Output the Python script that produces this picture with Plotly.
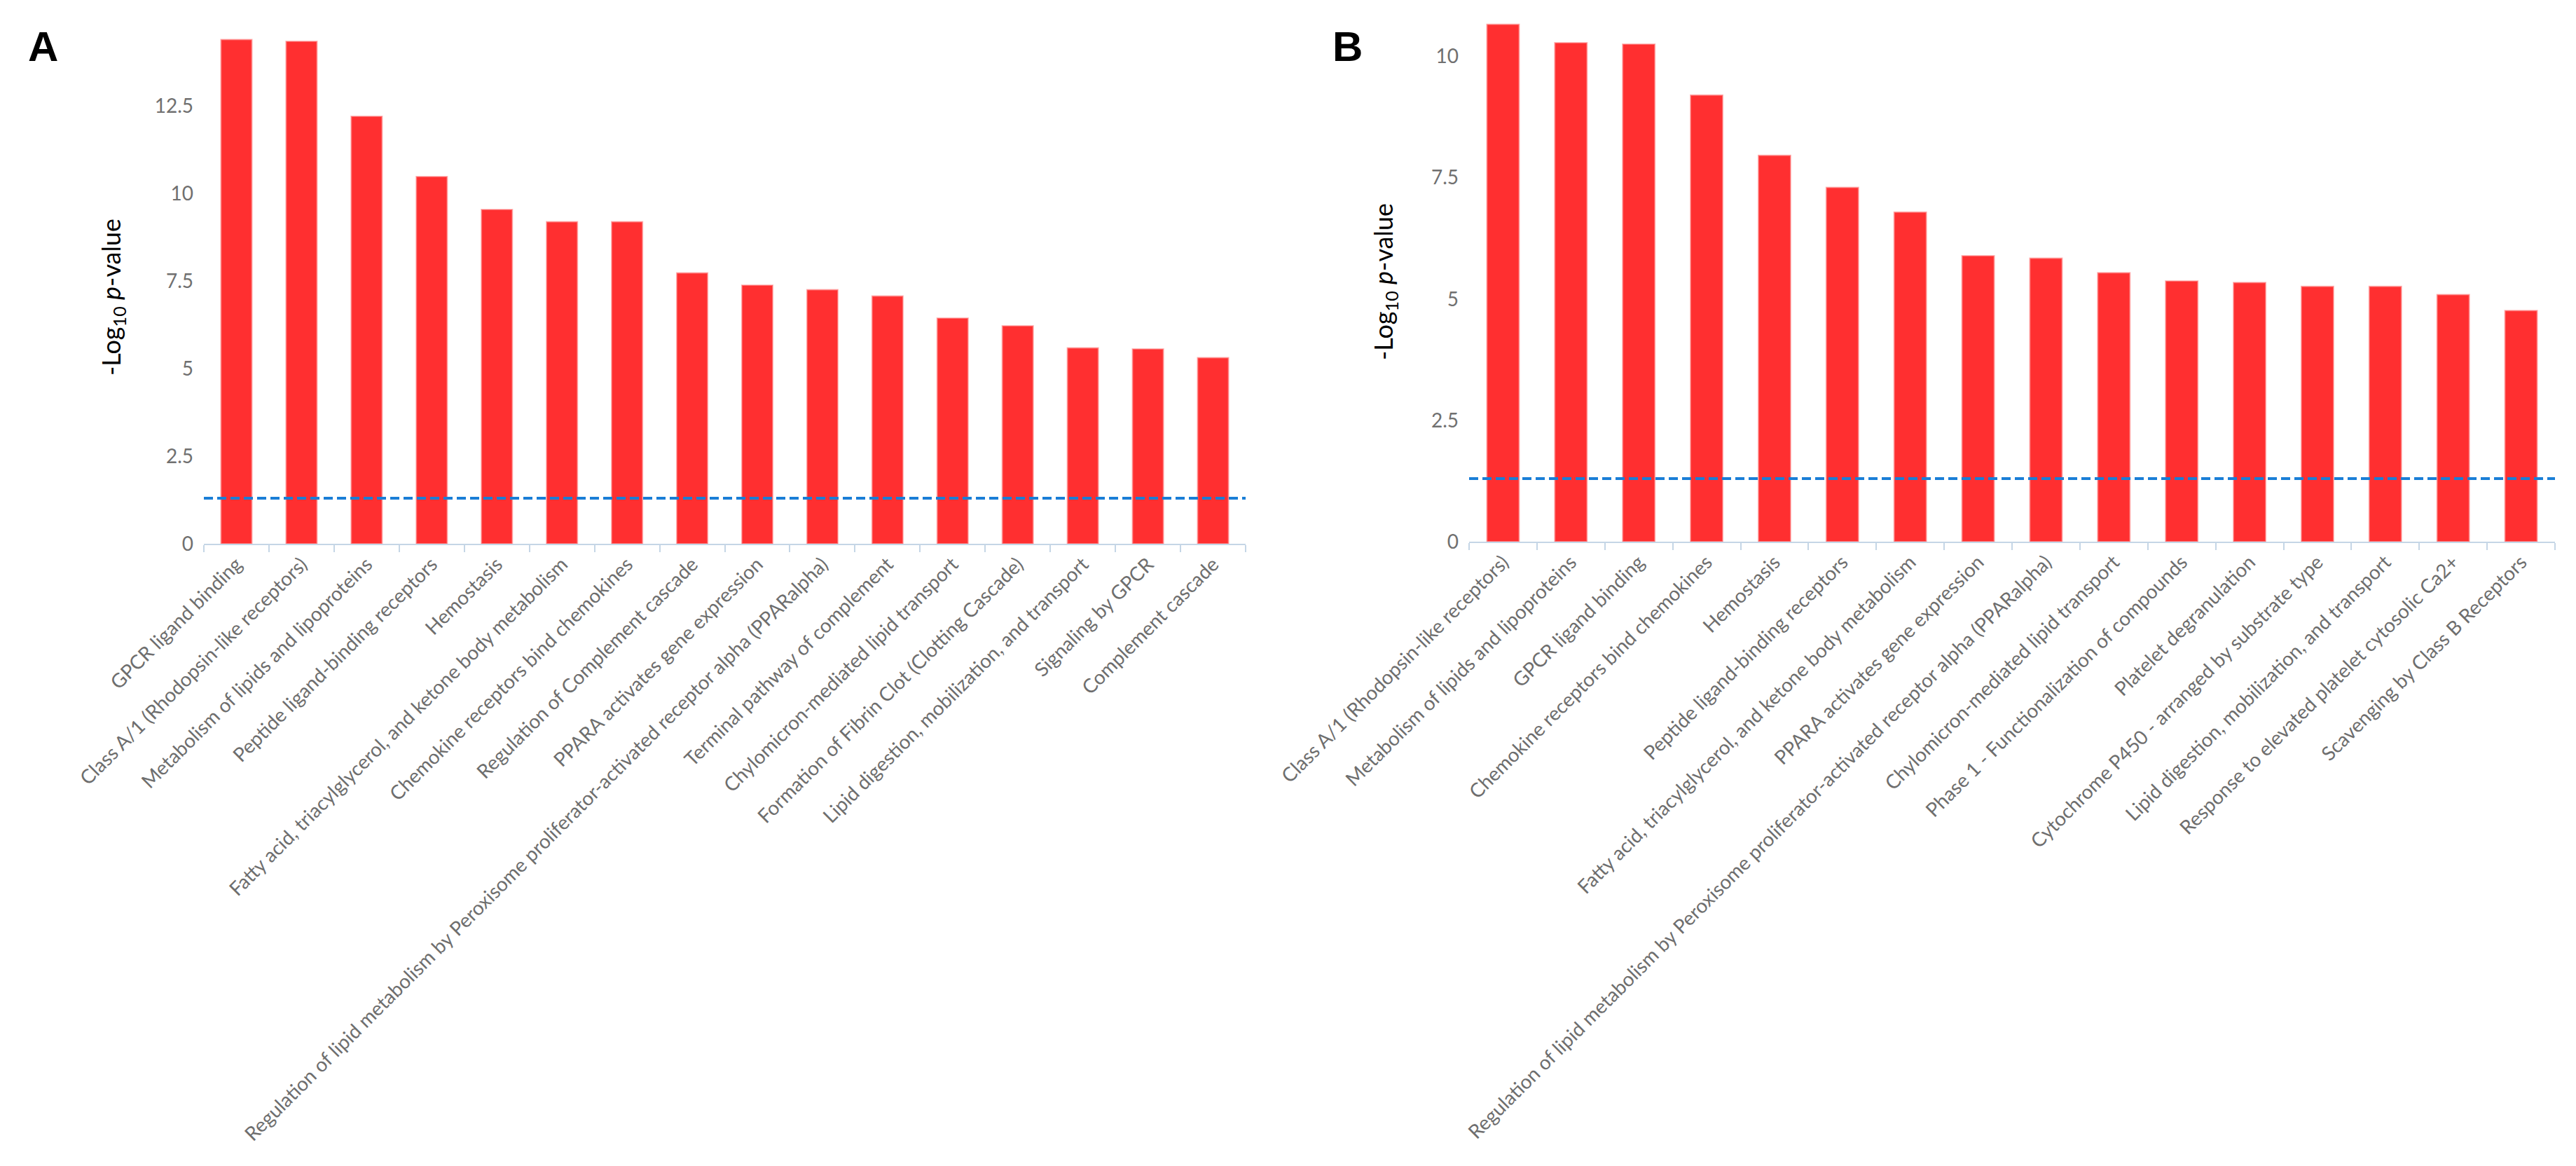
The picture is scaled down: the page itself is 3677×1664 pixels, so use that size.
import plotly.graph_objects as go

# ---------------- data ----------------
cats_a = [
    "GPCR ligand binding",
    "Class A/1 (Rhodopsin-like receptors)",
    "Metabolism of lipids and lipoproteins",
    "Peptide ligand-binding receptors",
    "Hemostasis",
    "Fatty acid, triacylglycerol, and ketone body metabolism",
    "Chemokine receptors bind chemokines",
    "Regulation of Complement cascade",
    "PPARA activates gene expression",
    "Regulation of lipid metabolism by Peroxisome proliferator-activated receptor alpha (PPARalpha)",
    "Terminal pathway of complement",
    "Chylomicron-mediated lipid transport",
    "Formation of Fibrin Clot (Clotting Cascade)",
    "Lipid digestion, mobilization, and transport",
    "Signaling by GPCR",
    "Complement cascade",
]
vals_a = [14.39, 14.34, 12.20, 10.48, 9.54, 9.19, 9.19, 7.73,
          7.38, 7.25, 7.07, 6.44, 6.22, 5.59, 5.56, 5.31]

cats_b = [
    "Class A/1 (Rhodopsin-like receptors)",
    "Metabolism of lipids and lipoproteins",
    "GPCR ligand binding",
    "Chemokine receptors bind chemokines",
    "Hemostasis",
    "Peptide ligand-binding receptors",
    "Fatty acid, triacylglycerol, and ketone body metabolism",
    "PPARA activates gene expression",
    "Regulation of lipid metabolism by Peroxisome proliferator-activated receptor alpha (PPARalpha)",
    "Chylomicron-mediated lipid transport",
    "Phase 1 - Functionalization of compounds",
    "Platelet degranulation",
    "Cytochrome P450 - arranged by substrate type",
    "Lipid digestion, mobilization, and transport",
    "Response to elevated platelet cytosolic Ca2+",
    "Scavenging by Class B Receptors",
]
vals_b = [10.66, 10.28, 10.25, 9.20, 7.96, 7.30, 6.79, 5.89,
          5.84, 5.54, 5.37, 5.34, 5.26, 5.26, 5.09, 4.76]

threshold = 1.301  # -log10(0.05)
yticks_a = [0, 2.5, 5, 7.5, 10, 12.5]
yticks_b = [0, 2.5, 5, 7.5, 10]

# ---------------- figure ----------------
W, H = 3677, 1664
BAR = "#ff2f30"
AXIS = "#c5d6e6"
TICKFONT = dict(family="Lato", size=28, color="#6e6e6e")
TITLEFONT = dict(family="Lato", size=36, color="black")

fig = go.Figure()
fig.add_trace(go.Bar(x=cats_a, y=vals_a, xaxis="x", yaxis="y",
                     marker=dict(color=BAR, line=dict(color="rgba(255,140,140,0.6)", width=2)),
                     showlegend=False, hoverinfo="x+y"))
fig.add_trace(go.Bar(x=cats_b, y=vals_b, xaxis="x2", yaxis="y2",
                     marker=dict(color=BAR, line=dict(color="rgba(255,140,140,0.6)", width=2)),
                     showlegend=False, hoverinfo="x+y"))

def xaxis(domain, anchor):
    return dict(domain=domain, anchor=anchor, type="category",
                showline=True, linecolor=AXIS, linewidth=2,
                ticks="outside", ticklen=10, tickwidth=2, tickcolor=AXIS,
                tickson="boundaries", tickangle=-45, tickfont=TICKFONT,
                showgrid=False, zeroline=False, automargin=False, fixedrange=True)

def yaxis(domain, anchor, rng, tv):
    return dict(domain=domain, anchor=anchor, range=rng, tickvals=tv,
                ticktext=[("%g" % v) for v in tv],
                showline=False, showgrid=False, zeroline=False, ticks="",
                tickfont=dict(family="Lato", size=28, color="#707070"),
                ticklabelstandoff=14, automargin=False, fixedrange=True)

fig.update_layout(
    width=W, height=H,
    margin=dict(l=0, r=0, t=0, b=0),
    paper_bgcolor="white", plot_bgcolor="white",
    bargap=0.525,
    xaxis=xaxis([283 / W, 1770 / W], "y"),
    yaxis=yaxis([1 - 768 / H, 1 - 38 / H], "x", [0, 14.6], yticks_a),
    xaxis2=xaxis([2089 / W, 3639 / W], "y2"),
    yaxis2=yaxis([1 - 765 / H, 1 - 17 / H], "x2", [0, 10.8], yticks_b),
)

dash = dict(color="#1a7ed6", width=4, dash="13px,6px")
fig.add_shape(type="line", xref="x domain", yref="y", x0=0, x1=1,
              y0=threshold, y1=threshold, line=dash)
fig.add_shape(type="line", xref="x2 domain", yref="y2", x0=0, x1=1,
              y0=threshold, y1=threshold, line=dash)

title = "-Log<sub>10</sub> <i>p</i>-value"
# panel A title: placed against the A y-axis (y domain coordinates)
fig.add_annotation(text=title, xref="paper", yref="y domain",
                   x=152 / W, y=(768 - 416) / 730, textangle=-90, showarrow=False,
                   xanchor="center", yanchor="middle", font=TITLEFONT)
fig.add_annotation(text=title, xref="paper", yref="y2 domain",
                   x=1969 / W, y=(765 - 394) / 748, textangle=-90, showarrow=False,
                   xanchor="center", yanchor="middle", font=TITLEFONT)

for letter, xc in [("A", 53), ("B", 1915)]:
    fig.add_annotation(text="<b>%s</b>" % letter, xref="paper", yref="paper",
                       x=xc / W, y=1 - 58 / H, showarrow=False,
                       xanchor="center", yanchor="middle",
                       font=dict(family="Liberation Sans", size=60, color="black"))

fig.write_html("out.html")
